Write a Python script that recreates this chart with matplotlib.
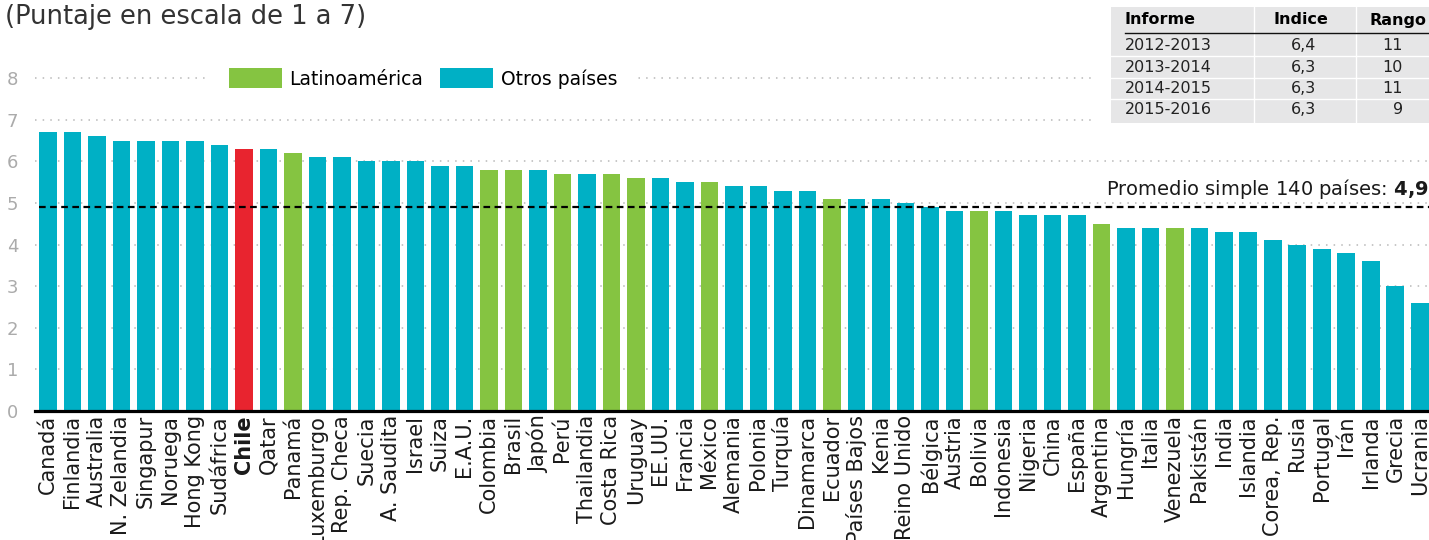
import matplotlib
matplotlib.use("Agg")
import matplotlib.pyplot as plt
from matplotlib.patches import Patch, Rectangle

# datos
paises = ["Canadá", "Finlandia", "Australia", "N. Zelandia", "Singapur", "Noruega",
          "Hong Kong", "Sudáfrica", "Chile", "Qatar", "Panamá", "Luxemburgo",
          "Rep. Checa", "Suecia", "A. Saudita", "Israel", "Suiza", "E.A.U.",
          "Colombia", "Brasil", "Japón", "Perú", "Thailandia", "Costa Rica",
          "Uruguay", "EE.UU.", "Francia", "México", "Alemania", "Polonia",
          "Turquía", "Dinamarca", "Ecuador", "Países Bajos", "Kenia", "Reino Unido",
          "Bélgica", "Austria", "Bolivia", "Indonesia", "Nigeria", "China",
          "España", "Argentina", "Hungría", "Italia", "Venezuela", "Pakistán",
          "India", "Islandia", "Corea, Rep.", "Rusia", "Portugal", "Irán",
          "Irlanda", "Grecia", "Ucrania"]
puntaje = [6.7, 6.7, 6.6, 6.5, 6.5, 6.5, 6.5, 6.4, 6.3, 6.3, 6.2, 6.1,
           6.1, 6.0, 6.0, 6.0, 5.9, 5.9, 5.8, 5.8, 5.8, 5.7, 5.7, 5.7,
           5.6, 5.6, 5.5, 5.5, 5.4, 5.4, 5.3, 5.3, 5.1, 5.1, 5.1, 5.0,
           4.9, 4.8, 4.8, 4.8, 4.7, 4.7, 4.7, 4.5, 4.4, 4.4, 4.4, 4.4,
           4.3, 4.3, 4.1, 4.0, 3.9, 3.8, 3.6, 3.0, 2.6]
latam = ["Panamá", "Colombia", "Brasil", "Perú", "Costa Rica", "Uruguay",
         "México", "Ecuador", "Bolivia", "Argentina", "Venezuela"]
destacado = "Chile"
promedio = 4.9

informe = ["2012-2013", "2013-2014", "2014-2015", "2015-2016"]
indice = ["6,4", "6,3", "6,3", "6,3"]
rango = ["11", "10", "11", "9"]

VERDE = "#85c441"
TURQ = "#00b0c5"
ROJO = "#e8242f"

W, H = 1429, 540
fig = plt.figure(figsize=(W / 100, H / 100), dpi=100)

# eje principal (0 en y=411px, 41.6 px por unidad)
ax = fig.add_axes([35 / W, (H - 411) / H, (W - 35) / W, 8.5 * 41.6 / H])

colores = []
for p in paises:
    if p == destacado:
        colores.append(ROJO)
    elif p in latam:
        colores.append(VERDE)
    else:
        colores.append(TURQ)

x = list(range(len(paises)))
ax.bar(x, puntaje, width=0.73, color=colores, zorder=2)
ax.set_xlim(-0.53, len(paises) - 1 + 0.37)
ax.set_ylim(0, 8.5)
ax.set_yticks(range(0, 9))
ax.yaxis.grid(True, linestyle=(0, (1, 4)), color="#b8b8b8", linewidth=1.1, zorder=0)
ax.set_axisbelow(True)

for s in ["left", "right", "top"]:
    ax.spines[s].set_visible(False)
ax.spines["bottom"].set_linewidth(2.3)
ax.spines["bottom"].set_zorder(4)

ax.tick_params(axis="y", length=0, pad=12, labelsize=13, labelcolor="#ababab")
ax.tick_params(axis="x", length=0, pad=3)
ax.set_xticks(x)
ax.set_xticklabels(paises, rotation=90, fontsize=15, color="#1a1a1a")
for lbl in ax.get_xticklabels():
    if lbl.get_text() == destacado:
        lbl.set_fontweight("bold")

# linea del promedio
ax.axhline(promedio, xmin=4 / (W - 35), color="black", linewidth=1.6,
           linestyle=(0, (3, 2)), zorder=3)
ax.text(ax.get_xlim()[1], promedio + 0.14,
        "Promedio simple 140 países: $\\mathbf{4{,}9}$",
        ha="right", va="bottom", fontsize=14, color="#1a1a1a")

# leyenda
handles = [Patch(facecolor=VERDE, edgecolor="none", label="Latinoamérica"),
           Patch(facecolor=TURQ, edgecolor="none", label="Otros países")]
leg = ax.legend(handles=handles, loc="center left", ncol=2,
                bbox_to_anchor=(210 / W, 1 - 78.5 / H), bbox_transform=fig.transFigure,
                fontsize=13.5, frameon=True, fancybox=False, borderpad=1.0,
                borderaxespad=0, handlelength=2.83, handleheight=1.23,
                handletextpad=0.4, columnspacing=0.9)
leg.get_frame().set_facecolor("white")
leg.get_frame().set_edgecolor("none")
leg.get_frame().set_alpha(1)

# titulo
fig.text(5 / W, 1 - 17 / H, "(Puntaje en escala de 1 a 7)", fontsize=18.5,
         color="#333333", va="center", ha="left")

# tabla (coordenadas en pixeles)
tx = fig.add_axes([1096 / W, (H - 125) / H, (W - 1096) / W, 125 / H])
tx.set_xlim(1096, W)
tx.set_ylim(125, 0)
tx.axis("off")
tx.add_patch(Rectangle((1096, 0), W - 1096, 125, facecolor="white", edgecolor="none"))
tx.add_patch(Rectangle((1111, 7), W - 1111, 116, facecolor="#e6e6e7", edgecolor="none"))
for cx in [1254, 1356]:
    tx.plot([cx, cx], [7, 123], color="white", linewidth=1.0)
filas_y = [45.5, 67, 88.5, 110]
for i in range(len(filas_y) - 1):
    yy = (filas_y[i] + filas_y[i + 1]) / 2
    tx.plot([1111, W], [yy, yy], color="white", linewidth=1.0)
tx.plot([1125, W], [33, 33], color="#111111", linewidth=1.0)

tx.text(1125, 20, "Informe", ha="left", va="center", fontsize=11.5, fontweight="bold")
tx.text(1301, 20, "Indice", ha="center", va="center", fontsize=11.5, fontweight="bold")
tx.text(1398, 20, "Rango", ha="center", va="center", fontsize=11.5, fontweight="bold")
for i, yy in enumerate(filas_y):
    tx.text(1125, yy, informe[i], ha="left", va="center", fontsize=11.5, color="#222222")
    tx.text(1304, yy, indice[i], ha="center", va="center", fontsize=11.5, color="#222222")
    tx.text(1403, yy, rango[i], ha="right", va="center", fontsize=11.5, color="#222222")

fig.savefig("out.png", dpi=100)
